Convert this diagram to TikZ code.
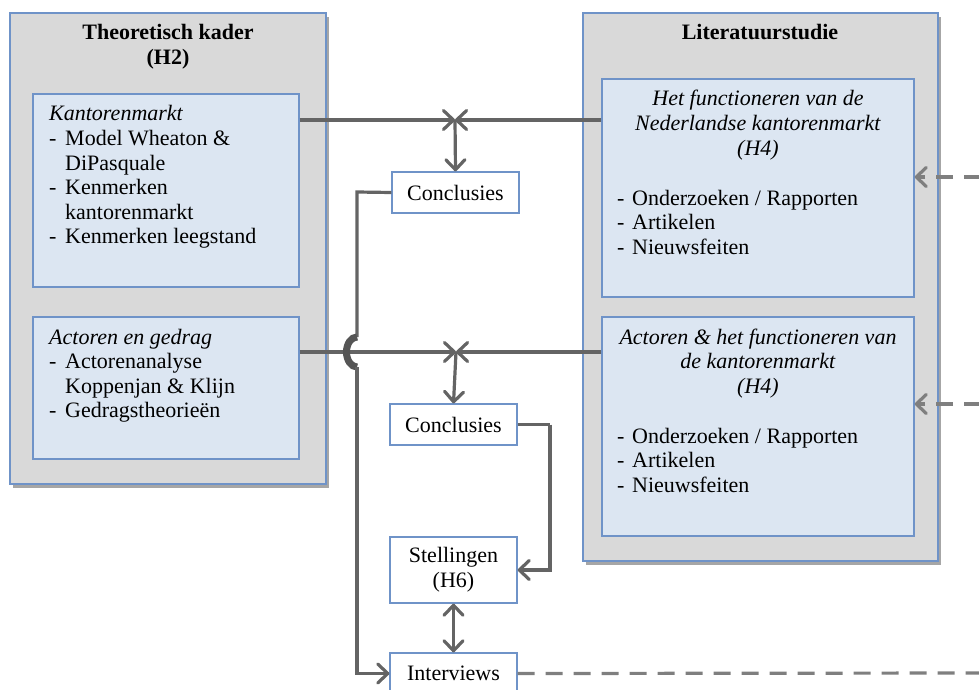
\documentclass[tikz,border=0pt]{standalone}
\usepackage{fontspec}
\setmainfont{Liberation Serif}
\usetikzlibrary{arrows.meta,shadows,calc}
\definecolor{outerfill}{HTML}{D9D9D9}
\definecolor{boxline}{HTML}{6F93C8}
\definecolor{innerfill}{HTML}{DCE6F2}
\definecolor{conn}{HTML}{646464}
\definecolor{hopc}{HTML}{555555}
\definecolor{dashc}{HTML}{7F7F7F}
\tikzset{
  outerbox/.style={draw=boxline, line width=1.3pt, fill=outerfill, inner sep=0,
    drop shadow={shadow xshift=3pt, shadow yshift=-4pt, fill=black, opacity=0.35}},
  innerbox/.style={draw=boxline, line width=1.3pt, fill=innerfill, inner sep=0},
  smallbox/.style={draw=boxline, line width=1.3pt, fill=white, inner sep=0, minimum width=127, align=center},
  txt/.style={inner sep=0, anchor=base west},
  ctxt/.style={inner sep=0, anchor=base},
  conline/.style={draw=conn, line width=3.2pt},
  tip/.style={-{Straight Barb[length=10pt,width=19pt,round]}},
  dtip/.style={{Straight Barb[length=10pt,width=19pt,round]}-{Straight Barb[length=10pt,width=19pt,round]}},
  dashline/.style={draw=dashc, line width=3.2pt, dash pattern=on 17pt off 11pt},
}
\newcommand{\dsh}{\makebox[16pt][l]{-}}
\newcommand{\ind}{\hspace*{16pt}}
\begin{document}
\begin{tikzpicture}[x=1pt,y=-1pt,font=\fontsize{22}{24.6}\selectfont]
\useasboundingbox (0,0) rectangle (979,690);
% outer boxes
\node[outerbox, minimum width=316, minimum height=471] (L) at (168,248.5) {};
\node[outerbox, minimum width=355, minimum height=548] (R) at (760.5,287) {};
% inner boxes
\node[innerbox, minimum width=266, minimum height=193] (L1) at (166,190.5) {};
\node[innerbox, minimum width=266, minimum height=142] (L2) at (166,388) {};
\node[innerbox, minimum width=312, minimum height=218] (R1) at (758,188) {};
\node[innerbox, minimum width=312, minimum height=219] (R2) at (758,426.5) {};
% titles
\node[ctxt] (LT) at (168,40) {\begin{tabular}[t]{@{}c@{}}\textbf{Theoretisch kader}\\\textbf{(H2)}\end{tabular}};
\node[ctxt] (RT) at (760,40) {\textbf{Literatuurstudie}};
% left texts
\node[txt] (L1t) at (49,121) {\begin{tabular}[t]{@{}l@{}}\textit{Kantorenmarkt}\\
\dsh Model Wheaton \&\\ \ind DiPasquale\\ \dsh Kenmerken\\ \ind kantorenmarkt\\ \dsh Kenmerken leegstand\end{tabular}};
\node[txt] (L2t) at (49,344) {\begin{tabular}[t]{@{}l@{}}\textit{Actoren en gedrag}\\
\dsh Actorenanalyse\\ \ind Koppenjan \& Klijn\\ \dsh Gedragstheorieën\end{tabular}};
% right texts
\node[ctxt] (R1h) at (758,106) {\begin{tabular}[t]{@{}c@{}}\textit{Het functioneren van de}\\\textit{Nederlandse kantorenmarkt}\\\textit{(H4)}\end{tabular}};
\node[txt] (R1t) at (617,205) {\begin{tabular}[t]{@{}l@{}}\makebox[15pt][l]{-}Onderzoeken / Rapporten\\\makebox[15pt][l]{-}Artikelen\\\makebox[15pt][l]{-}Nieuwsfeiten\end{tabular}};
\node[ctxt] (R2h) at (758,344) {\begin{tabular}[t]{@{}c@{}}\textit{Actoren \& het functioneren van}\\\textit{de kantorenmarkt}\\\textit{(H4)}\end{tabular}};
\node[txt] (R2t) at (617,443) {\begin{tabular}[t]{@{}l@{}}\makebox[15pt][l]{-}Onderzoeken / Rapporten\\\makebox[15pt][l]{-}Artikelen\\\makebox[15pt][l]{-}Nieuwsfeiten\end{tabular}};
% small boxes
\node[smallbox, minimum height=41] (C1) at (455.5,192.5) {Conclusies};
\node[smallbox, minimum height=41] (C2) at (453.5,424.5) {Conclusies};
\node[smallbox, minimum height=66] (S) at (453.5,570) {Stellingen\\(H6)};
\node[smallbox, minimum height=41] (I) at (453.5,673.5) {Interviews};
% junctions and free ends
\coordinate (J1) at (455,120);
\coordinate (J2) at (456,352);
\coordinate (E1) at (981,177);
\coordinate (E2) at (981,404);
\coordinate (E3) at (981,673);
\coordinate (V) at (357,192);
\coordinate (H1) at (357,337);
\coordinate (H2) at (357,367);
\coordinate (K) at (550,429);
% connectors
\draw[conline, tip] (L1.east |- J1) -- (J1);
\draw[conline, tip] (R1.west |- J1) -- (J1);
\draw[conline, tip] (J1) -- (C1.north);
\draw[conline, tip] (L2.east |- J2) -- (J2);
\draw[conline, tip] (R2.west |- J2) -- (J2);
\draw[conline, tip] (J2) -- (C2.north);
\draw[conline] (C1.west) -- (V) -- (H1);
\draw[draw=hopc, line width=7pt] (H1) arc[start angle=90, end angle=270, x radius=10.5pt, y radius=15pt];
\draw[conline, tip] (H2) -- (H2 |- I.west) -- (I.west);
\draw[conline, tip] (C2.east -| K) -- (K |- S.east) -- (S.east);
\draw[conline] (C2.east) -- (C2.east -| K);
\draw[conline, dtip] (S.south) -- (I.north);
\draw[dashline] (I.east) -- (E3);
\draw[dashline, tip] (E1) -- (R1.east |- E1);
\draw[dashline, tip] (E2) -- (R2.east |- E2);
\end{tikzpicture}
\end{document}
